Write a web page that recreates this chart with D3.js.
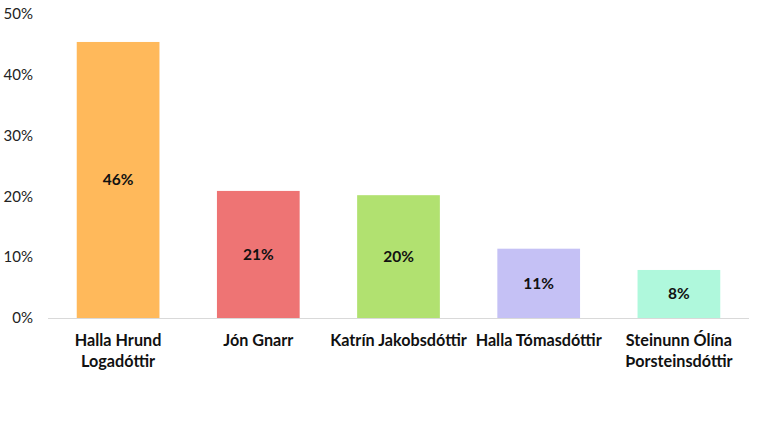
<!DOCTYPE html>
<html><head><meta charset="utf-8">
<script src="https://cdn.jsdelivr.net/npm/d3@7"></script>
<style>body{margin:0;background:#fff}svg{display:block}</style>
</head><body>
<svg id="c" width="768" height="432"></svg>
<script>
const categories = [["Halla Hrund","Logadóttir"],["Jón Gnarr"],["Katrín Jakobsdóttir"],["Halla Tómasdóttir"],["Steinunn Ólína","Þorsteinsdóttir"]];
const values = [45.4, 20.9, 20.2, 11.4, 7.9];
const valueLabels = ["46%","21%","20%","11%","8%"];
const colors = ["#FFB95B","#EE7474","#B1E170","#C5C1F5","#AFF8DC"];
const yTicks = [0,10,20,30,40,50];

const svg = d3.select("#c");
const font = "Lato, 'Open Sans', sans-serif";
const x = d3.scaleBand().domain(d3.range(categories.length)).range([48,749]).paddingInner(0.41).paddingOuter(0.205);
const y = d3.scaleLinear().domain([0,50]).range([318,14]);

// y tick labels
svg.append("g").selectAll("text").data(yTicks).join("text")
  .attr("x",33).attr("y",d=>y(d)).attr("dy","0.35em").attr("text-anchor","end")
  .attr("font-family",font).attr("font-size",15).attr("fill","#222")
  .text(d=>d+"%");

// bars
svg.append("g").selectAll("rect").data(values).join("rect")
  .attr("x",(d,i)=>x(i)).attr("width",x.bandwidth())
  .attr("y",d=>y(d)).attr("height",d=>y(0)-y(d))
  .attr("fill",(d,i)=>colors[i]);

// axis line
svg.append("line").attr("x1",48).attr("x2",749).attr("y1",y(0)+0.5).attr("y2",y(0)+0.5)
  .attr("stroke","#d9d9d9").attr("stroke-width",1);

// value labels
svg.append("g").selectAll("text").data(values).join("text")
  .attr("x",(d,i)=>x(i)+x.bandwidth()/2).attr("y",d=>(y(d)+y(0))/2).attr("dy","0.35em")
  .attr("text-anchor","middle").attr("font-family",font).attr("font-weight","bold")
  .attr("font-size",15.5).attr("fill","#111").text((d,i)=>valueLabels[i]);

// category labels
const cl = svg.append("g").selectAll("text").data(categories).join("text")
  .attr("x",(d,i)=>x(i)+x.bandwidth()/2).attr("y",340)
  .attr("text-anchor","middle").attr("font-family",font).attr("font-weight","bold")
  .attr("font-size",16.2).attr("fill","#111");
cl.each(function(d){
  const t=d3.select(this);
  d.forEach((line,j)=>t.append("tspan").attr("x",t.attr("x")).attr("dy",j===0?"0.35em":"21").text(line));
});
</script>
</body></html>
